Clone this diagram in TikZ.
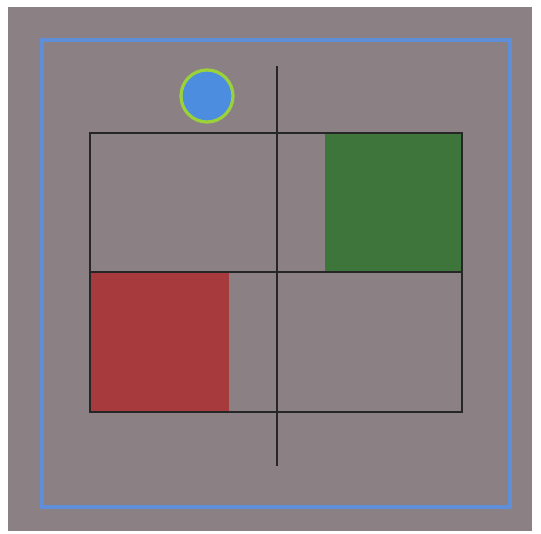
\documentclass[tikz,border=0pt]{standalone}
\begin{document}
\begin{tikzpicture}[x=0.5pt,y=-0.5pt,
  frame/.style={draw=blueframe,line width=2pt},
  thin/.style={draw=black!85,line width=0.7pt}]
\definecolor{bg}{HTML}{8B8185}
\definecolor{blueframe}{HTML}{5E8FD8}
\definecolor{greenbox}{HTML}{3D753A}
\definecolor{redbox}{HTML}{A63A3C}
\definecolor{ball}{HTML}{4C8DDF}
\definecolor{ring}{HTML}{9BD23A}
\useasboundingbox (0,0) rectangle (541,534);
\fill[white] (0,0) rectangle (541,534);
\fill[bg] (8,7) rectangle (532,531);
\draw[frame] (42,40) rectangle (510,507);
\fill[greenbox] (325,133) rectangle (462,272);
\fill[redbox] (90,272) rectangle (229,412);
\draw[thin] (90,133) rectangle (462,412);
\draw[thin] (90,272) -- (462,272);
\draw[thin] (277,66) -- (277,466);
\draw[fill=ball,draw=ring,line width=1.6pt] (207,96) circle (26);
\end{tikzpicture}
\end{document}
